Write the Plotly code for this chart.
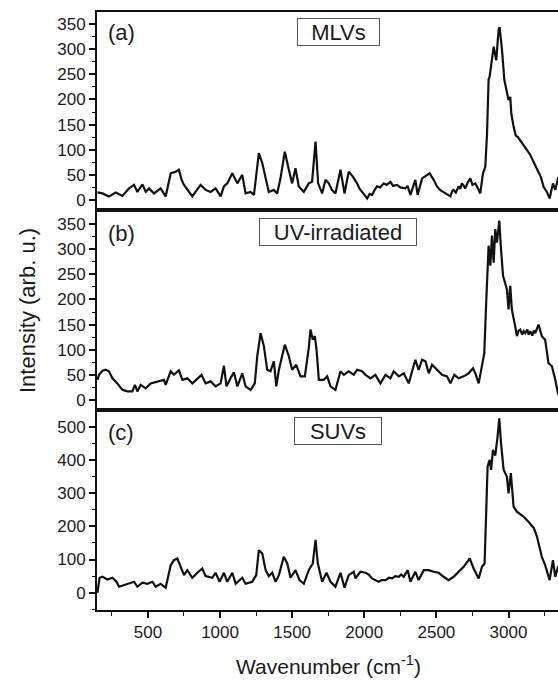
import plotly.graph_objects as go

# ---------------- data ----------------
wn_mlv = [150, 185, 230, 277, 323, 369, 404, 427, 462, 485, 508, 542, 588, 623, 658, 692, 715, 734, 750, 773,
          808, 865, 900, 935, 969, 1004, 1027, 1050, 1085, 1120, 1154, 1177, 1212, 1235, 1269, 1293, 1316, 1338,
          1373, 1396, 1419, 1449, 1477, 1500, 1523, 1546, 1581, 1615, 1638, 1662, 1680, 1708, 1731, 1754, 1775,
          1800, 1835, 1863, 1892, 1922, 1950, 1968, 1985, 2003, 2020, 2037, 2054, 2072, 2089, 2110, 2135, 2155,
          2181, 2200, 2227, 2250, 2285, 2300, 2320, 2354, 2370,
          2401, 2453, 2481, 2504, 2525, 2550, 2575, 2597, 2610, 2619, 2635, 2654, 2665, 2677, 2690, 2700, 2718,
          2735, 2750, 2770, 2785, 2804, 2823, 2839, 2851, 2862,
          2869, 2879, 2897, 2915, 2931, 2938, 2955, 2971, 3000, 3012, 3019, 3035, 3050, 3065, 3081, 3100, 3115,
          3128, 3150, 3160, 3174, 3190, 3208, 3225, 3243,
          3266, 3285, 3308, 3324, 3343, 3360]
int_mlv = [15, 13, 7, 15, 8, 23, 30, 16, 31, 16, 23, 13, 23, 7, 53, 56, 60, 40, 30, 20,
           7, 30, 20, 16, 23, 7, 27, 33, 53, 33, 50, 13, 16, 10, 93, 73, 40, 16,
           20, 13, 43, 96, 60, 33, 63, 27, 16, 33, 36, 116, 33, 13, 40, 33, 20,
           13, 60, 13, 56, 46, 33, 22, 16, 8, 3, 12, 10, 20, 27, 25, 33, 30,
           36, 28, 30, 25, 23, 28, 10, 40, 10,
           43, 53, 40, 27, 20, 16, 12, 7, 18, 20, 15, 27, 22, 33, 28, 23, 35,
           43, 30, 33, 25, 13, 53, 66, 132, 240,
           245, 268, 305, 278, 338, 344, 298, 239, 199, 205, 173, 146, 128, 125, 119, 110, 104,
           99, 90, 84, 76, 68, 56, 45, 26,
           16, 3, 33, 20, 43, 40]

wn_uv = [150, 161, 185, 207, 230, 254, 288, 323, 358, 392, 410, 427, 450, 485, 519, 548, 577, 611, 623, 658,
         680, 715, 739, 773, 808, 843, 872, 900, 935, 969, 1004, 1027, 1045, 1073, 1096, 1120, 1154, 1177, 1212,
         1241, 1258, 1281, 1304, 1327, 1350, 1373, 1390, 1408, 1449, 1477, 1500, 1528, 1558, 1588, 1615, 1627,
         1643, 1657, 1669, 1685, 1719, 1743, 1766, 1800, 1835, 1858, 1892, 1927, 1950, 1985, 2008, 2043, 2077,
         2112, 2147, 2181, 2204, 2239, 2274, 2308, 2331, 2354, 2377, 2401, 2424, 2447, 2470, 2504, 2539, 2574,
         2597, 2624, 2654, 2689, 2723, 2754, 2770, 2793, 2816, 2832, 2846, 2862, 2874, 2885, 2897, 2908, 2920,
         2936, 2948, 2962, 2989, 3000, 3012, 3023, 3046, 3058, 3070, 3081, 3095, 3105, 3116, 3130, 3140, 3150,
         3165, 3175, 3185, 3208, 3231, 3254, 3277,
         3301, 3324, 3343, 3360]
int_uv = [40, 50, 58, 60, 57, 43, 33, 20, 17, 17, 30, 17, 30, 23, 33, 35, 37, 40, 30, 57,
          50, 59, 40, 43, 33, 43, 50, 33, 37, 27, 33, 68, 27, 43, 55, 27, 53, 27, 20,
          33, 87, 133, 107, 60, 57, 77, 27, 60, 110, 87, 60, 70, 47, 47, 103, 140,
          120, 127, 100, 40, 40, 47, 27, 20, 57, 50, 57, 50, 60, 57, 50, 43, 50,
          33, 50, 43, 57, 47, 53, 33, 57, 80, 60, 80, 77, 53, 70, 60, 50, 47,
          33, 50, 43, 47, 53, 63, 53, 33, 73, 93, 200, 307, 267, 327, 273, 340, 313,
          357, 300, 247, 220, 180, 227, 180, 147, 127, 138, 140, 130, 137, 133, 140, 130, 137,
          128, 138, 133, 150, 127, 120, 73,
          67, 40, 13, 5]

wn_suv = [150, 165, 185, 219, 254, 282, 300, 335, 369, 404, 427, 462, 496, 531, 554, 588, 623, 658, 680, 704,
          727, 750, 773, 808, 843, 877, 900, 946, 969, 997, 1027, 1050, 1085, 1108, 1154, 1177, 1223, 1251, 1269,
          1293, 1316, 1338, 1362, 1385, 1408, 1442, 1466, 1489, 1523, 1551, 1581, 1615, 1643, 1662, 1678, 1708,
          1738, 1766, 1800, 1835, 1863, 1892, 1927, 1939, 1973, 2008, 2030, 2054, 2075, 2100, 2120, 2147, 2170,
          2193, 2215, 2239, 2255, 2274, 2301,
          2320, 2354, 2377, 2412, 2447, 2481, 2516, 2550, 2585, 2619, 2654, 2689, 2731, 2758, 2793, 2816, 2834,
          2846, 2855, 2869, 2879, 2892, 2908, 2924, 2936, 2948, 2966, 2989, 3000, 3016, 3035, 3058, 3080, 3104,
          3125, 3150, 3175,
          3197, 3215, 3231, 3254, 3285, 3308, 3324, 3343, 3360]
int_suv = [0, 45, 48, 40, 45, 33, 18, 23, 27, 33, 18, 30, 27, 33, 18, 27, 15, 83, 98, 103,
           78, 53, 68, 45, 60, 73, 50, 45, 60, 33, 60, 33, 60, 27, 45, 27, 33, 53, 128,
           118, 68, 50, 60, 33, 53, 108, 88, 45, 68, 38, 27, 68, 88, 159, 88, 33,
           60, 33, 18, 60, 15, 53, 63, 43, 63, 60, 55, 43, 38, 33, 38, 38, 45,
           43, 50, 48, 55, 48, 68,
           33, 63, 38, 68, 68, 63, 60, 48, 38, 48, 63, 78, 103, 73, 43, 78, 88,
           239, 380, 400, 370, 430, 413, 470, 525, 450, 370, 349, 299, 360, 259, 244, 238, 229,
           220, 209, 195,
           169, 140, 108, 83, 38, 98, 48, 78, 80]

panel_tags = ["(a)", "(b)", "(c)"]
panel_names = ["MLVs", "UV-irradiated", "SUVs"]
y_ticks_ab = [0, 50, 100, 150, 200, 250, 300, 350]
y_ticks_c = [0, 100, 200, 300, 400, 500]
x_ticks = [500, 1000, 1500, 2000, 2500, 3000]

# ---------------- layout helpers ----------------
W, H = 558, 682
L, R, T, B = 97, 0, 12, 72
PW, PH = W - L - R, H - T - B


def fx(xp):
    return (xp - L) / PW


def fy(yp):
    return (H - B - yp) / PH


FONT = "Liberation Sans, Arial, sans-serif"
TXT = "#1a1a1a"

fig = go.Figure()
series = [(wn_mlv, int_mlv), (wn_uv, int_uv), (wn_suv, int_suv)]
for i, (xs, ys) in enumerate(series):
    sfx = "" if i == 0 else str(i + 1)
    fig.add_trace(go.Scatter(x=xs, y=ys, mode="lines",
                             line=dict(color="#111111", width=2.2),
                             xaxis="x" + sfx, yaxis="y" + sfx, showlegend=False))

domains = [[fy(210), 1.0], [fy(410), fy(210)], [0.0, fy(410)]]
yranges = [[-20, 374], [-20, 378], [-52, 550]]
xrange_ = [147, 3343]

layout = dict(width=W, height=H, margin=dict(l=L, r=R, t=T, b=B),
              paper_bgcolor="white", plot_bgcolor="white",
              font=dict(family=FONT, size=17, color=TXT))

for i in range(3):
    sfx = "" if i == 0 else str(i + 1)
    bottom = (i == 2)
    xa = dict(domain=[0, 1], range=xrange_, anchor="y" + sfx,
              showline=True, linecolor="#111111", linewidth=2, mirror=True,
              showgrid=False, zeroline=False,
              showticklabels=bottom, ticks="outside" if bottom else "",
              tickvals=x_ticks, ticklen=6, tickwidth=1.5, tickcolor="#111111",
              tickfont=dict(size=17, color=TXT, family=FONT))
    if bottom:
        xa["minor"] = dict(tickvals=[250, 750, 1250, 1750, 2250, 2750, 3250],
                           ticks="outside", ticklen=4, tickwidth=1.2, tickcolor="#111111")
    else:
        xa["matches"] = "x3"
    ticks = y_ticks_c if i == 2 else y_ticks_ab
    minor_vals = ([-50, 50, 150, 250, 350, 450] if i == 2
                  else [25, 75, 125, 175, 225, 275, 325])
    ya = dict(domain=domains[i], range=yranges[i], anchor="x" + sfx,
              showline=True, linecolor="#111111", linewidth=2, mirror=False,
              showgrid=False, zeroline=False,
              tickvals=ticks, ticks="outside", ticklen=6, tickwidth=1.5, tickcolor="#111111",
              tickfont=dict(size=17, color=TXT, family=FONT),
              minor=dict(tickvals=minor_vals, ticks="outside", ticklen=3.5,
                         tickwidth=1.2, tickcolor="#111111"))
    layout["xaxis" + sfx] = xa
    layout["yaxis" + sfx] = ya

fig.update_layout(**layout)

# panel tags and boxed labels
tag_y = [33, 234, 432]
box_y = [32, 232, 431]
box_w = [77, 152, 82]
for i in range(3):
    fig.add_annotation(xref="paper", yref="paper", x=fx(106), y=fy(tag_y[i]),
                       xanchor="left", yanchor="middle", showarrow=False,
                       text=panel_tags[i], font=dict(size=22, color=TXT, family=FONT))
    fig.add_annotation(xref="paper", yref="paper", x=fx(338), y=fy(box_y[i]),
                       xanchor="center", yanchor="middle", showarrow=False,
                       text=panel_names[i], font=dict(size=22, color=TXT, family=FONT),
                       bordercolor="#555555", borderwidth=1, borderpad=2,
                       width=box_w[i], height=22, bgcolor="white")

# axis titles
fig.add_annotation(xref="paper", yref="paper", x=fx(27), y=0.5,
                   xanchor="center", yanchor="middle", showarrow=False, textangle=-90,
                   text="Intensity (arb. u.)", font=dict(size=22, color=TXT, family=FONT))
fig.add_annotation(xref="paper", yref="paper", x=fx(328), y=fy(665),
                   xanchor="center", yanchor="middle", showarrow=False,
                   text="Wavenumber (cm<sup>-1</sup>)", font=dict(size=21, color=TXT, family=FONT))

fig.write_html("out.html")
